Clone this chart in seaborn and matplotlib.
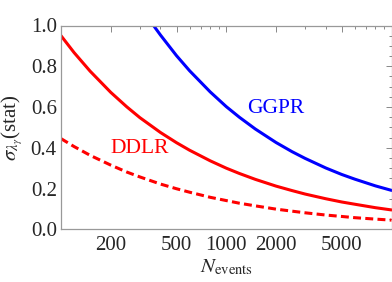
import matplotlib
matplotlib.use('Agg')
import matplotlib.pyplot as plt
import seaborn as sns
from matplotlib.ticker import FixedLocator, NullFormatter, MultipleLocator

# values
n_ddlr = [100, 120, 150, 200, 250, 300, 400, 500, 600, 800, 1000, 1200,
          1500, 2000, 2500, 3000, 4000, 5000, 6000, 8000, 10000]
ddlr_solid = [0.950, 0.867, 0.776, 0.672, 0.601, 0.548, 0.475, 0.425, 0.388,
              0.336, 0.300, 0.274, 0.245, 0.212, 0.190, 0.173, 0.150, 0.134,
              0.123, 0.106, 0.095]
ddlr_dashed = [0.445, 0.406, 0.363, 0.315, 0.281, 0.257, 0.222, 0.199, 0.182,
               0.157, 0.141, 0.128, 0.115, 0.099, 0.089, 0.081, 0.070, 0.063,
               0.057, 0.050, 0.045]
n_ggpr = [363, 400, 500, 600, 800, 1000, 1200, 1500, 2000, 2500, 3000, 4000,
          5000, 6000, 8000, 10000]
ggpr = [1.000, 0.953, 0.852, 0.778, 0.674, 0.602, 0.550, 0.492, 0.426, 0.381,
        0.348, 0.301, 0.269, 0.246, 0.213, 0.191]

x_ticks = [200, 500, 1000, 2000, 5000]
x_ticklabels = ['200', '500', '1000', '2000', '5000']
x_minor = [300, 400, 600, 700, 800, 900, 3000, 4000, 6000, 7000, 8000, 9000]
y_ticks = [0.0, 0.2, 0.4, 0.6, 0.8, 1.0]

sns.set_style('white')
plt.rcParams['font.family'] = ['Liberation Serif', 'DejaVu Serif']
plt.rcParams['mathtext.fontset'] = 'stix'

fig = plt.figure(figsize=(3.92, 2.82), dpi=100)
ax = fig.add_axes([61 / 392, 1 - 229.3 / 282, 330.5 / 392, 203.8 / 282])
ax.set_xscale('log')

sns.lineplot(x=n_ddlr, y=ddlr_solid, color='#ff0000', lw=2.2, ax=ax)
sns.lineplot(x=n_ddlr, y=ddlr_dashed, color='#ff0000', lw=2.2, ax=ax,
             linestyle=(0, (2.6, 1.4)))
sns.lineplot(x=n_ggpr, y=ggpr, color='#0000ff', lw=2.2, ax=ax)

ax.set_xlim(100, 10000)
ax.set_ylim(0, 1.0)

ax.xaxis.set_major_locator(FixedLocator(x_ticks))
ax.set_xticklabels(x_ticklabels)
ax.xaxis.set_minor_locator(FixedLocator(x_minor))
ax.xaxis.set_minor_formatter(NullFormatter())
ax.set_yticks(y_ticks)
ax.set_yticklabels(['%.1f' % v for v in y_ticks])
ax.yaxis.set_minor_locator(MultipleLocator(0.05))

ax.tick_params(which='both', direction='in', top=True, right=True,
               color='#888888', width=0.7, labelsize=15)
ax.tick_params(which='major', length=4)
ax.tick_params(which='minor', length=2.2)
ax.tick_params(axis='x', pad=5)
ax.tick_params(axis='y', pad=3)
for s in ax.spines.values():
    s.set_color('#999999')
    s.set_linewidth(0.9)

ax.text(1340, 0.571, 'GGPR', color='#0000ff', fontsize=15.5)
ax.text(198, 0.373, 'DDLR', color='#ff0000', fontsize=15.5)

ax.set_xlabel(r'$N_{\rm events}$', fontsize=15, labelpad=2)
ax.set_ylabel(r'$\sigma_{\lambda_\gamma}$(stat)', fontsize=15, labelpad=4)

fig.savefig('out.png', dpi=100)
